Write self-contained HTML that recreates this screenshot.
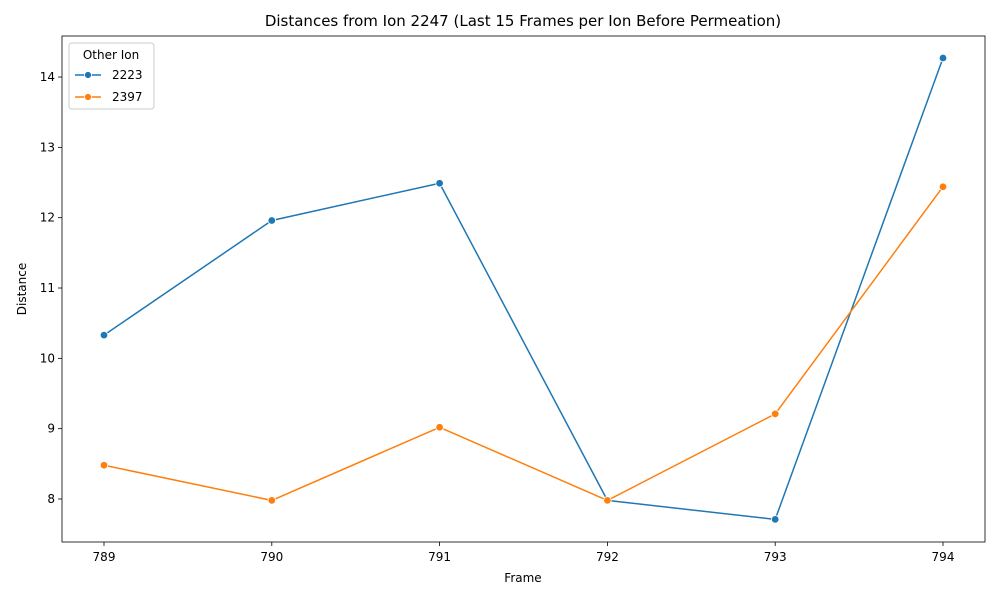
<!DOCTYPE html>
<html><head><meta charset="utf-8"><style>
body{margin:0;background:#fff;font-family:"Liberation Sans","DejaVu Sans",sans-serif}
svg text{font-family:"DejaVu Sans","Liberation Sans",sans-serif}
</style></head><body>
<svg id="chart" width="1000" height="600">
<rect width="1000" height="600" fill="#fff"/>
<text x="523" y="26" text-anchor="middle" font-size="15">Distances from Ion 2247 (Last 15 Frames per Ion Before Permeation)</text>
<g id="axes"></g>
<g id="series"></g>
<rect x="62" y="36" width="923" height="506" fill="none" stroke="#000" stroke-width="0.8"/>
<text x="523" y="582" text-anchor="middle" font-size="12">Frame</text>
<text x="26" y="289" text-anchor="middle" font-size="12" transform="rotate(-90 26 289)">Distance</text>
<g>
<rect x="69" y="43" width="85" height="66" rx="3" fill="#fff" stroke="#ccc"/>
<text x="111" y="59" text-anchor="middle" font-size="12">Other Ion</text>
<g><line x1="75" y1="75" x2="101" y2="75" stroke="#1f77b4" stroke-width="1.5"/><circle cx="88" cy="75" r="3.5" fill="#1f77b4" stroke="#fff" stroke-width="0.8"/><text x="112" y="79" font-size="12">2223</text></g>
<g><line x1="75" y1="97" x2="101" y2="97" stroke="#ff7f0e" stroke-width="1.5"/><circle cx="88" cy="97" r="3.5" fill="#ff7f0e" stroke="#fff" stroke-width="0.8"/><text x="112" y="101" font-size="12">2397</text></g>
</g>
</svg>
<script>
const frames=[789,790,791,792,793,794];
const series2223=[10.33,11.96,12.49,7.98,7.71,14.27];
const series2397=[8.48,7.98,9.02,7.98,9.21,12.44];
const yTicks=[8,9,10,11,12,13,14];
const NS="http://www.w3.org/2000/svg";
function xS(v){return 104+(v-789)*167.8;}
function yS(v){return 499-(v-8)*70.33;}
function mk(t,a,p){const e=document.createElementNS(NS,t);for(const k in a)e.setAttribute(k,a[k]);p.appendChild(e);return e;}
const axes=document.getElementById('axes');
frames.forEach(f=>{
 const g=mk('g',{},axes);
 
 
 mk('line',{x1:xS(f),x2:xS(f),y1:542,y2:546,stroke:'#000','stroke-width':0.8},g);
 const t=mk('text',{x:xS(f),y:561,'text-anchor':'middle','font-size':12},g);t.textContent=f;
});
yTicks.forEach(v=>{
 const g=mk('g',{},axes);
 
 
 mk('line',{x1:58,x2:62,y1:yS(v),y2:yS(v),stroke:'#000','stroke-width':0.8},g);
 const t=mk('text',{x:55,y:yS(v)+4,'text-anchor':'end','font-size':12},g);t.textContent=v;
});
const sg=document.getElementById('series');
[[series2223,'#1f77b4','2223'],[series2397,'#ff7f0e','2397']].forEach(([d,c,n])=>{
 const g=mk('g',{},sg);
 
 
 mk('polyline',{points:d.map((v,i)=>xS(frames[i])+','+yS(v)).join(' '),fill:'none',stroke:c,'stroke-width':1.5},g);
 d.forEach((v,i)=>{
  const p=mk('circle',{cx:xS(frames[i]),cy:yS(v),r:3.8,fill:c,stroke:'#fff','stroke-width':0.8},g);
  
  
 });
});
</script>
</body></html>
